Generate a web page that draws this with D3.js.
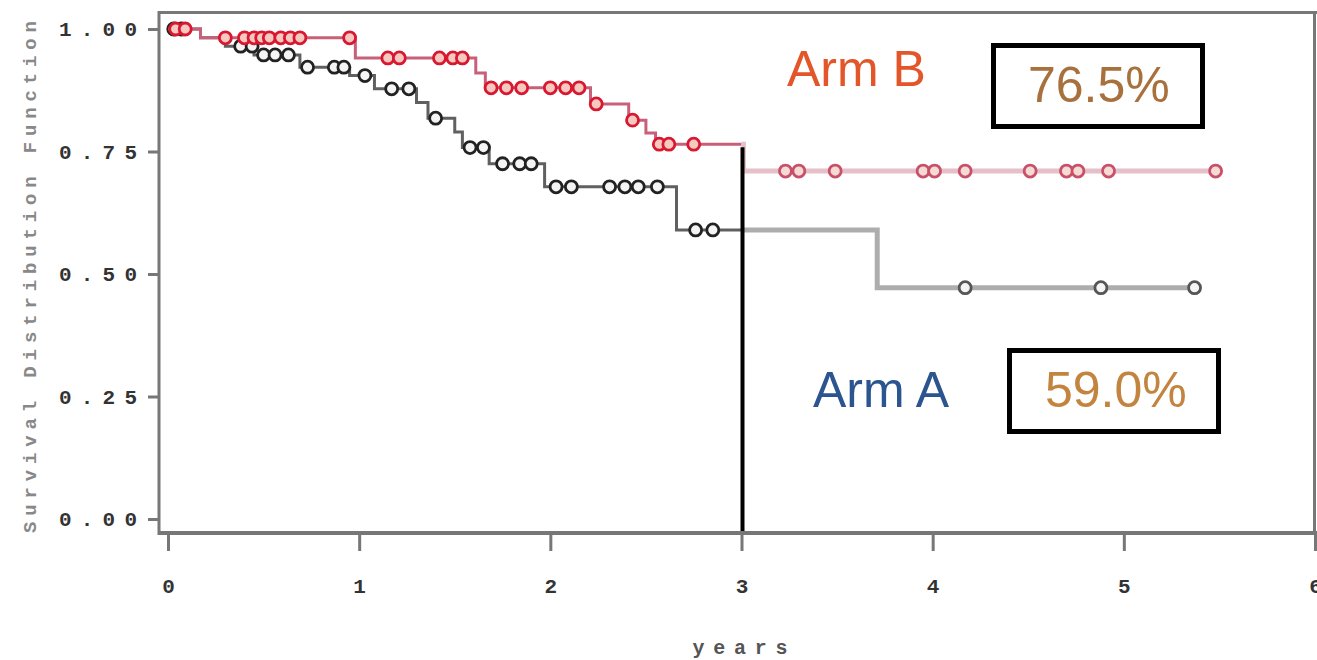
<!DOCTYPE html>
<html><head><meta charset="utf-8">
<script src="https://cdn.jsdelivr.net/npm/d3@7"></script>
<style>body{margin:0;background:#fff}svg{display:block}</style>
</head><body><svg id="c" width="1317" height="660"></svg>
<script>
// ---- data ----
const xTicks = [0, 1, 2, 3, 4, 5, 6];
const yTicks = [0, 0.25, 0.5, 0.75, 1.0];
const yTickLabels = ["0.00", "0.25", "0.50", "0.75", "1.00"];
const xTitle = "years";
const yTitle = "Survival Distribution Function";

const armBTimes = [0, 0.17, 0.98, 1.61, 1.66, 2.21, 2.41, 2.50, 2.55, 3.01];
const armBSurv  = [1.0, 0.982, 0.941, 0.910, 0.880, 0.847, 0.814, 0.788, 0.765, 0.710];
const armBCens  = [0.04, 0.09, 0.30, 0.40, 0.45, 0.49, 0.53, 0.59, 0.64, 0.69, 0.95,
                   1.15, 1.21, 1.42, 1.49, 1.54, 1.69, 1.77, 1.85, 2.00, 2.08, 2.15,
                   2.24, 2.43, 2.57, 2.62, 2.75,
                   3.23, 3.30, 3.49, 3.95, 4.01, 4.17, 4.51, 4.70, 4.76, 4.92, 5.48];
const armBEnd = 5.48;

const armATimes = [0, 0.17, 0.30, 0.45, 0.69, 0.95, 1.08, 1.30, 1.36, 1.50, 1.54, 1.68, 1.97, 2.66, 3.71];
const armASurv  = [1.0, 0.982, 0.965, 0.947, 0.922, 0.905, 0.878, 0.850, 0.818, 0.790, 0.758, 0.725, 0.678, 0.590, 0.472];
const armACens  = [0.03, 0.07, 0.38, 0.44, 0.50, 0.56, 0.63, 0.73, 0.87, 0.92, 1.03,
                   1.17, 1.26, 1.40, 1.58, 1.65, 1.75, 1.84, 1.90, 2.03, 2.11,
                   2.31, 2.39, 2.46, 2.56, 2.76, 2.85, 4.17, 4.88, 5.37];
const armAEnd = 5.37;

const landmark = 3;
const armLabels = ["Arm B", "Arm A"];
const landmarkPct = ["76.5%", "59.0%"];

// ---- scales ----
const svg = d3.select("#c");
const x = d3.scaleLinear().domain([0, 6]).range([168, 1315]);
const y = d3.scaleLinear().domain([0, 1]).range([519, 29]);

function S(times, surv, t) {
  let v = surv[0];
  for (let i = 0; i < times.length; i++) if (times[i] <= t) v = surv[i];
  return v;
}

const defs = svg.append("defs");
defs.append("clipPath").attr("id", "pre").append("rect")
  .attr("x", 0).attr("y", 0).attr("width", x(landmark)).attr("height", 660);
defs.append("clipPath").attr("id", "post").append("rect")
  .attr("x", x(landmark)).attr("y", 0).attr("width", 1317 - x(landmark)).attr("height", 660);

// ---- frame / axes ----
const axisCol = "#777";
svg.append("line").attr("x1", 159).attr("x2", 1317).attr("y1", 12.5).attr("y2", 12.5)
  .attr("stroke", axisCol).attr("stroke-width", 3);
svg.append("line").attr("x1", 1314.5).attr("x2", 1314.5).attr("y1", 12).attr("y2", 533)
  .attr("stroke", axisCol).attr("stroke-width", 3);
svg.append("line").attr("x1", 159).attr("x2", 159).attr("y1", 11).attr("y2", 535)
  .attr("stroke", axisCol).attr("stroke-width", 3);
svg.append("line").attr("x1", 158).attr("x2", 1317).attr("y1", 533).attr("y2", 533)
  .attr("stroke", axisCol).attr("stroke-width", 4);

const xAxis = svg.append("g").attr("transform", "translate(0,533)")
  .call(d3.axisBottom(x).tickValues(xTicks).tickFormat(d3.format("d")).tickSize(18).tickPadding(27));
xAxis.select(".domain").remove();
xAxis.selectAll(".tick line").attr("stroke", axisCol).attr("stroke-width", 3);
xAxis.selectAll(".tick text").attr("fill", "#333")
  .style("font-family", "'Liberation Mono', monospace").style("font-weight", "bold").style("font-size", "21px");

const yAxis = svg.append("g").attr("transform", "translate(158,0)")
  .call(d3.axisLeft(y).tickValues(yTicks).tickFormat((d, i) => yTickLabels[i]).tickSize(10).tickPadding(11));
yAxis.select(".domain").remove();
yAxis.selectAll(".tick line").attr("stroke", axisCol).attr("stroke-width", 3);
yAxis.selectAll(".tick text").attr("fill", "#333")
  .style("font-family", "'Liberation Mono', monospace").style("font-weight", "bold").style("font-size", "21px")
  .attr("textLength", 78).attr("lengthAdjust", "spacing");

svg.append("text").text(yTitle)
  .attr("transform", "translate(36,277) rotate(-90)")
  .attr("text-anchor", "middle")
  .attr("textLength", 512).attr("lengthAdjust", "spacing")
  .attr("fill", "#888")
  .style("font-family", "'Liberation Mono', monospace").style("font-weight", "bold").style("font-size", "19px");

svg.append("text").text(xTitle)
  .attr("x", 740).attr("y", 654).attr("text-anchor", "middle")
  .attr("textLength", 95).attr("lengthAdjust", "spacing")
  .attr("fill", "#555")
  .style("font-family", "'Liberation Mono', monospace").style("font-weight", "bold").style("font-size", "20px");

// ---- curves ----
const line = d3.line().x(d => x(d[0])).y(d => y(d[1])).curve(d3.curveStepAfter);

function drawArm(times, surv, cens, end, st) {
  const pts = times.map((t, i) => [t, surv[i]]);
  pts.push([end, surv[surv.length - 1]]);
  svg.append("path").attr("d", line(pts)).attr("clip-path", "url(#pre)")
    .attr("fill", "none").attr("stroke", st.preLine).attr("stroke-width", st.preW);
  svg.append("path").attr("d", line(pts)).attr("clip-path", "url(#post)")
    .attr("fill", "none").attr("stroke", st.postLine).attr("stroke-width", st.postW);
  svg.append("g").selectAll("circle").data(cens).join("circle")
    .attr("cx", d => x(d)).attr("cy", d => y(S(times, surv, d))).attr("r", 6)
    .attr("fill", d => d < landmark ? st.preFill : st.postFill)
    .attr("stroke", d => d < landmark ? st.preCirc : st.postCirc)
    .attr("stroke-width", 2.8);
}

drawArm(armATimes, armASurv, armACens, armAEnd, {
  preLine: "#606060", preW: 3, postLine: "#adadad", postW: 5,
  preCirc: "#222", preFill: "#f4f4f4", postCirc: "#555", postFill: "#f4f4f4"
});
drawArm(armBTimes, armBSurv, armBCens, armBEnd, {
  preLine: "#c8607a", preW: 3, postLine: "#e6c0c8", postW: 5,
  preCirc: "#d81830", preFill: "#f6c8c0", postCirc: "#c8506a", postFill: "#f4dcd4"
});

// landmark vertical line
svg.append("line")
  .attr("x1", x(landmark) + 1).attr("x2", x(landmark) + 1)
  .attr("y1", y(S(armBTimes, armBSurv, landmark)) + 3).attr("y2", 531)
  .attr("stroke", "#000").attr("stroke-width", 4);

// ---- annotations ----
const big = "'Liberation Sans', Arial, sans-serif";
svg.append("text").text(armLabels[0]).attr("x", 787).attr("y", 86)
  .attr("fill", "#e2562a").style("font-family", big).style("font-size", "50px");
svg.append("text").text(armLabels[1]).attr("x", 813).attr("y", 407)
  .attr("fill", "#2c5590").style("font-family", big).style("font-size", "50px");

svg.append("rect").attr("x", 993.5).attr("y", 45.5).attr("width", 209).attr("height", 81)
  .attr("fill", "#fff").attr("stroke", "#000").attr("stroke-width", 5);
svg.append("text").text(landmarkPct[0]).attr("x", 1028).attr("y", 102)
  .attr("fill", "#a8703c").style("font-family", big).style("font-size", "50px");

svg.append("rect").attr("x", 1009.5).attr("y", 350.5).attr("width", 209).attr("height", 81)
  .attr("fill", "#fff").attr("stroke", "#000").attr("stroke-width", 5);
svg.append("text").text(landmarkPct[1]).attr("x", 1045).attr("y", 407)
  .attr("fill", "#c2843e").style("font-family", big).style("font-size", "50px");
</script></body></html>
